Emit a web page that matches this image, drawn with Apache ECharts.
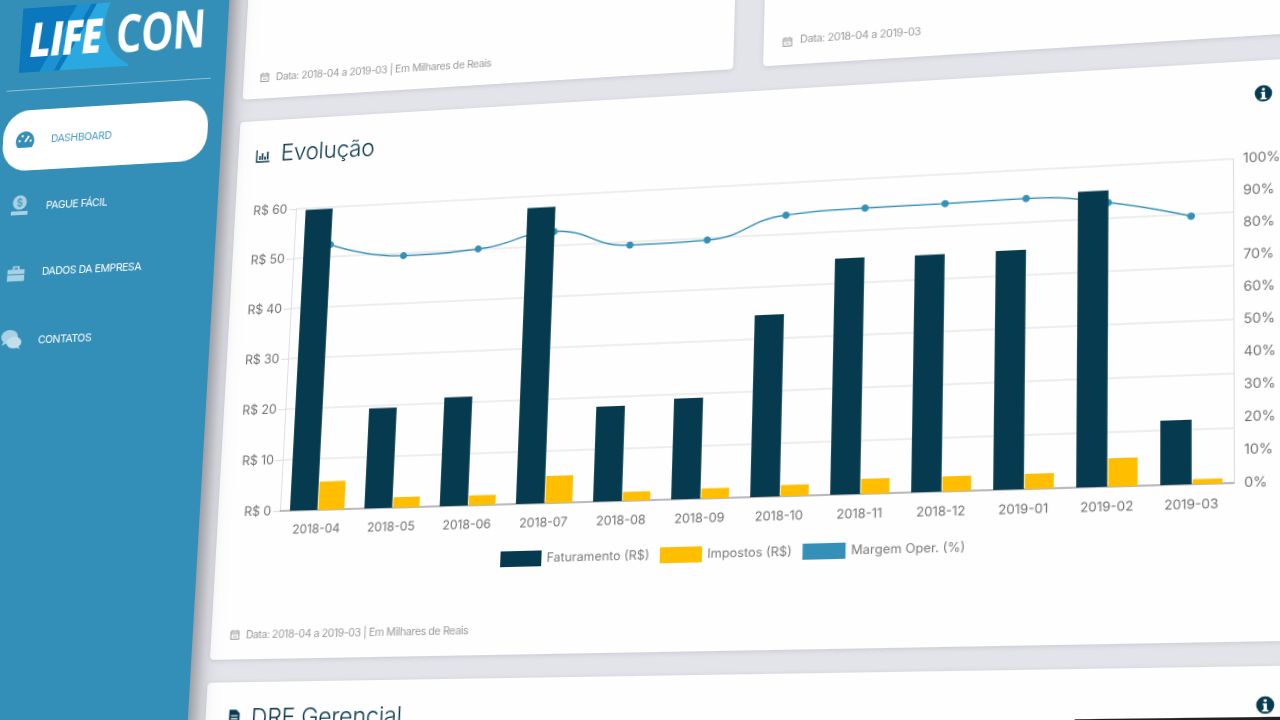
<!DOCTYPE html>
<html><head><meta charset="utf-8">
<script src="https://cdn.jsdelivr.net/npm/echarts@6/dist/echarts.min.js"></script>
<style>
html,body{margin:0;padding:0;width:1280px;height:720px;overflow:hidden;background:#e3e4e9;font-family:Inter,"Open Sans",sans-serif}
#outer{position:absolute;left:0;top:0;width:1280px;height:720px;overflow:hidden;filter:blur(.35px)}
#stage{position:absolute;left:0;top:0;width:1280px;height:720px;transform-origin:0 0}
#stage>div{position:absolute;box-sizing:border-box}
.t{white-space:nowrap;transform-origin:0 50%}
</style></head><body>
<div id="outer"><div id="stage"></div></div>
<script>
const categories = ['2018-04','2018-05','2018-06','2018-07','2018-08','2018-09','2018-10','2018-11','2018-12','2019-01','2019-02','2019-03'];
const faturamento = [59.7,19.5,21.1,57.7,18.2,19.2,34.6,44.8,44.7,44.8,55.3,11.8];
const impostos = [5.5,2,1.9,5.2,1.7,1.9,2.1,2.8,2.8,2.8,5.2,0.9];
const margem = [87.4,82.5,83.5,88,82.3,82.7,89.5,90.5,90.6,90.9,88.3,82.7];
const seriesNames = ['Faturamento (R$)','Impostos (R$)','Margem Oper. (%)'];
const seriesColors = ['#063a4e','#ffbe00','#3590b8'];

// perspective of the photographed page
const flatQuad = [[300,200],[1200,200],[1200,500],[300,500]];
const viewQuad = [[296,209],[1233,159],[1234,483],[280,511]];
function solve(A,b){const n=b.length;for(let i=0;i<n;i++){let p=i;for(let r=i+1;r<n;r++)if(Math.abs(A[r][i])>Math.abs(A[p][i]))p=r;[A[i],A[p]]=[A[p],A[i]];[b[i],b[p]]=[b[p],b[i]];for(let r=i+1;r<n;r++){const f=A[r][i]/A[i][i];for(let c=i;c<n;c++)A[r][c]-=f*A[i][c];b[r]-=f*b[i];}}const x=new Array(n);for(let i=n-1;i>=0;i--){let s=b[i];for(let c=i+1;c<n;c++)s-=A[i][c]*x[c];x[i]=s/A[i][i];}return x;}
function homography(src,dst){const A=[],b=[];for(let i=0;i<4;i++){const [x,y]=src[i],[u,v]=dst[i];A.push([x,y,1,0,0,0,-u*x,-u*y]);b.push(u);A.push([0,0,0,x,y,1,-v*x,-v*y]);b.push(v);}return solve(A,b);}
const H=homography(flatQuad,viewQuad), Inv=homography(viewQuad,flatQuad);
function inv(x,y){const w=Inv[6]*x+Inv[7]*y+1;return [(Inv[0]*x+Inv[1]*y+Inv[2])/w,(Inv[3]*x+Inv[4]*y+Inv[5])/w];}
const stage=document.getElementById('stage');
stage.style.transform=`matrix3d(${H[0]},${H[3]},0,${H[6]},${H[1]},${H[4]},0,${H[7]},0,0,1,0,${H[2]},${H[5]},0,1)`;
function flatBox(l,t,r,b,css){const d=document.createElement('div');d.style.cssText=`left:${l}px;top:${t}px;width:${r-l}px;height:${b-t}px;${css||''}`;stage.appendChild(d);return d;}
function rect(tl,br,css){const a=inv(tl[0],tl[1]),b=inv(br[0],br[1]);return flatBox(a[0],a[1],b[0],b[1],css);}
function text(s,x,y,size,color,css,xf){const a=inv(x,y);const d=document.createElement('div');d.className='t';d.textContent=s;d.style.cssText=`left:${a[0]}px;top:${a[1]}px;font-size:${size}px;color:${color};transform:translateY(-50%) ${xf||''};${css||''}`;stage.appendChild(d);return d;}
function icon(x,y,size,svg){const a=inv(x,y);const d=document.createElement('div');d.style.cssText=`left:${a[0]-size/2}px;top:${a[1]-size/2}px;width:${size}px;height:${size}px;line-height:0`;d.innerHTML=`<svg viewBox="0 0 24 24" width="${size}" height="${size}">${svg}</svg>`;stage.appendChild(d);}

const cardStyle='background:#fefefe;border-radius:4px;box-shadow:0 1px 4px rgba(120,120,135,.25);';
// cards
{const bl=inv(243,100),br=inv(733,70);flatBox(bl[0],-300,br[0],bl[1],cardStyle);}
{const bl=inv(763,66);flatBox(bl[0],-300,1700,bl[1],cardStyle);}
{const tl=inv(240,122),bl=inv(211,660);flatBox(tl[0],tl[1],1700,bl[1],cardStyle);}
{const tl=inv(208,683);flatBox(tl[0],tl[1],1700,tl[1]+300,cardStyle);}
// sidebar
{const a=inv(229,0);flatBox(a[0]-500,-700,a[0],1200,'background:#338fb7;box-shadow:6px 0 18px rgba(60,60,70,.55)');}
// logo
rect([23,9],[128,66],'background:linear-gradient(118deg,#0b78bd 0 38%,#1d92d2 38% 48%,#0b78bd 48% 52%,#2aa9e1 52%);');
{const a=inv(108,-24),b=inv(225,62),side=inv(229,0);flatBox(a[0],a[1],side[0],b[1],'background:#338fb7;border-radius:52px 0 0 52px;');}
text('LIFE',30,39,50,'#fff','font-family:"Open Sans";font-weight:800;letter-spacing:-1px;','scaleX(.8) skewX(-7deg)');
text('CON',116,32,55,'#fff','font-family:"Open Sans";font-weight:700;letter-spacing:-1px;','scaleX(.79)');
// separator
{const a=inv(7,91),b=inv(211,77);flatBox(a[0],a[1],b[0],a[1]+1,'background:rgba(255,255,255,.45)');}
// nav
rect([5,112],[206,160],'background:#fff;border-radius:27px;');
const ico='#a9d1e3';
icon(25,140,24,'<path fill="#338fb7" d="M12 3a10 10 0 0 0-10 10c0 3 1 5 2.5 7h15C21 18 22 16 22 13A10 10 0 0 0 12 3z"/><path stroke="#fff" stroke-width="2" d="M12 14l4-6"/><circle cx="6" cy="13" r="1.2" fill="#fff"/><circle cx="9" cy="8" r="1.2" fill="#fff"/><circle cx="18" cy="13" r="1.2" fill="#fff"/>');
icon(20,205,24,`<circle cx="12" cy="9" r="7.5" fill="${ico}"/><path fill="${ico}" d="M3 18h18v4H3z"/><text x="12" y="13" font-size="11" text-anchor="middle" fill="#338fb7">$</text>`);
icon(16,273,22,`<path fill="${ico}" d="M2 8h20v13H2zM8 4h8v4h-2V6h-4v2H8z"/><path fill="#338fb7" d="M2 13h20v1H2z"/>`);
icon(11,340,24,`<ellipse cx="10" cy="9" rx="9" ry="7" fill="${ico}"/><path fill="${ico}" d="M4 13l-2 5 6-3z"/><ellipse cx="15" cy="15" rx="8" ry="6" fill="#c3dfeb"/><path fill="#c3dfeb" d="M19 18l3 4-7-3z"/>`);
text('DASHBOARD',51,138,11,'#4a9cc1','letter-spacing:-.35px');
text('PAGUE FÁCIL',46,205,11,'#fff','letter-spacing:-.35px');
text('DADOS DA EMPRESA',42,271,11,'#fff','letter-spacing:-.4px');
text('CONTATOS',38,340,11,'#fff','letter-spacing:-.4px');

// card captions
const cal='<path fill="none" stroke="#999" stroke-width="2" d="M4 6h16v15H4zM4 10h16M8 3v4M16 3v4"/><path stroke="#bbb" stroke-width="1.5" d="M8 14h8M8 17h8"/>';
icon(265,77,12,cal); icon(787,42,12,cal); icon(235,635,12,cal);
const capCss='letter-spacing:-.4px';
text('Data: 2018-04 a 2019-03 | Em Milhares de Reais',276,76,10.5,'#9a9a9a',capCss);
text('Data: 2018-04 a 2019-03',800,39,10.5,'#9a9a9a',capCss);
text('Data: 2018-04 a 2019-03 | Em Milhares de Reais',246,634,10.5,'#9a9a9a',capCss);
// titles
icon(263,156,16,'<path fill="none" stroke="#0a3a4e" stroke-width="2" d="M2 3v18h20"/><path stroke="#0a3a4e" stroke-width="2.5" d="M7 18v-6M11 18V8M15 18v-5M19 18V6"/>');
text('Evolução',281,153,23,'#0a3a4e','font-weight:300;letter-spacing:-.2px');
icon(234,716,14,'<path fill="#0a3a4e" d="M3 2h12l6 6v14H3z"/><path stroke="#fff" stroke-width="2" d="M6 12h12M6 17h12"/>');
text('DRE Gerencial',251,718,23,'#0a3a4e','font-weight:300;letter-spacing:-.2px');
const info='<circle cx="12" cy="12" r="11" fill="#063a4e"/><circle cx="12" cy="6.5" r="2" fill="#fff"/><path fill="#fff" d="M9 10h5v8h2v2H8v-2h2v-6H9z"/>';
icon(1264,93,17,info); icon(1265,705,17,info);
// remnant of chart above
icon(318,2,60,'<path fill="none" stroke="#888" stroke-width=".3" d="M1 1l1 1.5 1-2M7 1.5l1 1 1-1.5M14 1l.5 .5"/>');
// dark strip at page bottom
{const a=inv(1075,719);flatBox(a[0],a[1],a[0]+400,a[1]+6,'background:#222');}

// chart
const host=document.createElement('div');
host.style.cssText='left:200px;top:100px;width:1100px;height:550px';
stage.appendChild(host);
const chart=echarts.init(host,null,{renderer:'canvas',devicePixelRatio:2});
const axisFont={color:'#6f6f6f',fontSize:12.5,fontFamily:'Inter'};
chart.setOption({
  animation:false,
  grid:{left:100,right:100,top:100,bottom:150},
  legend:{bottom:85,left:317,icon:'rect',itemWidth:40,itemHeight:15,itemGap:10,data:seriesNames,
    textStyle:{color:'#7a7a7a',fontSize:12,fontFamily:'Inter'}},
  xAxis:{type:'category',data:categories,axisLine:{lineStyle:{color:'#a8a8ae',width:1.5}},axisTick:{show:false},
    axisLabel:Object.assign({margin:13},axisFont,{fontSize:12})},
  yAxis:[
    {type:'value',min:0,max:60,interval:10,axisLine:{show:true,lineStyle:{color:'#dedee0'}},axisTick:{show:true,length:7,lineStyle:{color:'#dedee0'}},
     splitLine:{lineStyle:{color:'#e8e8ea',width:1.5}},axisLabel:Object.assign({margin:9,formatter:v=>'R$ '+v},axisFont)},
    {type:'value',min:0,max:100,interval:10,axisLine:{show:true,lineStyle:{color:'#dedee0'}},axisTick:{show:false},
     splitLine:{show:false},axisLabel:Object.assign({margin:9,formatter:v=>v+'%'},axisFont)}
  ],
  series:[
    {name:seriesNames[0],type:'bar',data:faturamento,barWidth:'37%',barGap:'3%',itemStyle:{color:seriesColors[0]},z:3},
    {name:seriesNames[1],type:'bar',data:impostos,barWidth:'35%',itemStyle:{color:seriesColors[1]},z:3},
    {name:seriesNames[2],type:'line',yAxisIndex:1,data:margem,smooth:true,symbol:'circle',symbolSize:7,
     itemStyle:{color:seriesColors[2]},lineStyle:{color:seriesColors[2],width:1.4},z:2}
  ]
});
</script></body></html>
